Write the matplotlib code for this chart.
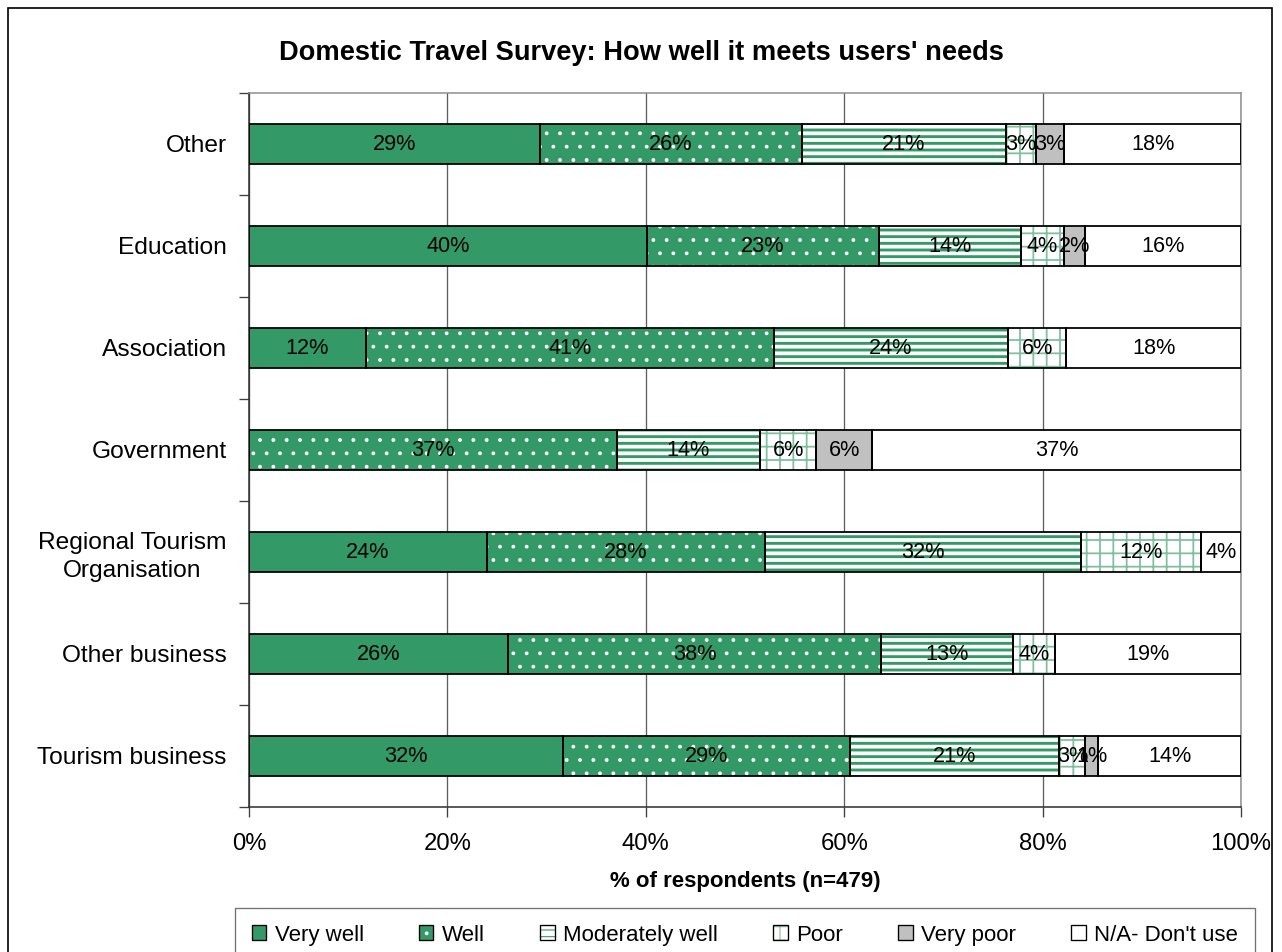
import matplotlib
matplotlib.use("Agg")
import matplotlib.pyplot as plt
from matplotlib.patches import Patch, Rectangle
import numpy as np

plt.rcParams['font.family'] = ['Liberation Sans', 'DejaVu Sans']

# survey groups, top row first
groups = ["Other", "Education", "Association", "Government",
          "Regional Tourism\nOrganisation", "Other business", "Tourism business"]
ratings = ["Very well", "Well", "Moderately well", "Poor", "Very poor", "N/A- Don't use"]

# share of respondents (%) per rating, one list per rating, same order as groups
very_well = [29.3, 40.1, 11.8, 0.0, 24.0, 26.1, 31.7]
well = [26.4, 23.4, 41.1, 37.1, 28.0, 37.6, 28.9]
moderately = [20.6, 14.3, 23.6, 14.4, 31.9, 13.3, 21.1]
poor = [3.0, 4.4, 5.9, 5.7, 12.1, 4.2, 2.6]
very_poor = [2.9, 2.1, 0.0, 5.6, 0.0, 0.0, 1.3]
not_used = [17.8, 15.7, 17.6, 37.2, 4.0, 18.8, 14.4]

xticks = [0, 20, 40, 60, 80, 100]

green = '#339966'
# face colour, hatch colour, hatch pattern, hatch line width
styles = [
    (green, green, None, 1.0),
    (green, 'white', '.', 1.0),
    ('white', green, '--', 2.6),
    ('white', '#80c0a0', '+', 1.6),
    ('#c0c0c0', '#c0c0c0', None, 1.0),
    ('white', 'white', None, 1.0),
]

DPI = 80
fig = plt.figure(figsize=(1282 / DPI, 952 / DPI), dpi=DPI)
ax = fig.add_axes([249 / 1282, 1 - 807 / 952, 992 / 1282, 714 / 952])

series = [very_well, well, moderately, poor, very_poor, not_used]
y = np.arange(len(groups))
left = np.zeros(len(groups))
for vals, (fc, hc, hatch, hlw) in zip(series, styles):
    vals = np.array(vals)
    with plt.rc_context({'hatch.linewidth': hlw}):
        bars = ax.barh(y, vals, left=left, height=0.4, color=fc,
                       edgecolor=hc, hatch=hatch, linewidth=0, zorder=2)
    for b in bars:
        if hasattr(b, 'set_hatch_linewidth'):
            b.set_hatch_linewidth(hlw)
    ax.barh(y, vals, left=left, height=0.4, fill=False,
            edgecolor='black', linewidth=1.6, zorder=3)
    for yi, l, v in zip(y, left, vals):
        if v > 0:
            ax.text(l + v / 2, yi, f"{v:.0f}%", ha='center', va='center',
                    fontsize=19.5, color='black', zorder=4)
    left += vals

ax.set_xlim(0, 100)
ax.set_ylim(len(groups) - 0.5, -0.5)
ax.set_xticks(xticks)
ax.set_xticklabels([f"{t}%" for t in xticks], fontsize=21.5)
ax.tick_params(axis='x', length=9, width=1.2, color='#404040', pad=14)

# boundary ticks on the y axis, group names in between
ax.set_yticks(np.arange(len(groups) + 1) - 0.5)
ax.set_yticklabels([])
ax.set_yticks(y, minor=True)
ax.set_yticklabels(groups, minor=True, fontsize=22, multialignment='center',
                   linespacing=1.3)
ax.tick_params(axis='y', which='major', length=9, width=1.2, color='#404040')
ax.tick_params(axis='y', which='minor', length=0, pad=20)

ax.grid(axis='x', color='#606060', linewidth=1.2, zorder=0)
ax.set_axisbelow(True)
for side in ['left', 'bottom']:
    ax.spines[side].set_color('#303030')
    ax.spines[side].set_linewidth(1.4)
for side in ['top', 'right']:
    ax.spines[side].set_color('#909090')
    ax.spines[side].set_linewidth(1.4)

fig.text(641 / 1282, 1 - 53 / 952, "Domestic Travel Survey: How well it meets users' needs",
         ha='center', va='center', fontsize=24.5, fontweight='bold')
fig.text(745 / 1282, 1 - 881 / 952, "% of respondents (n=479)",
         ha='center', va='center', fontsize=20, fontweight='bold')

handles = []
for fc, hc, hatch, hlw in styles:
    fill = Patch(facecolor=fc, edgecolor=hc, hatch=hatch, linewidth=0)
    edge = Patch(fill=False, edgecolor='black', linewidth=1.2)
    handles.append((fill, edge))
leg = fig.legend(handles, ratings, loc='upper left', ncol=6, mode='expand',
                 bbox_to_anchor=(235 / 1282, 1 - 908 / 952, 1020 / 1282, 0),
                 bbox_transform=fig.transFigure, borderaxespad=0,
                 fontsize=20, frameon=True, fancybox=False,
                 handlelength=0.65, handleheight=0.65, handletextpad=0.4,
                 borderpad=0.75)
leg.get_frame().set_edgecolor('#505050')
leg.get_frame().set_linewidth(1.2)

# frame round the whole chart
fig.patches.append(Rectangle((8 / 1282, -0.1), 1264 / 1282, 1.1 - 8 / 952,
                             transform=fig.transFigure, fill=False,
                             edgecolor='black', linewidth=1.5))

fig.savefig("out.png", dpi=DPI)
